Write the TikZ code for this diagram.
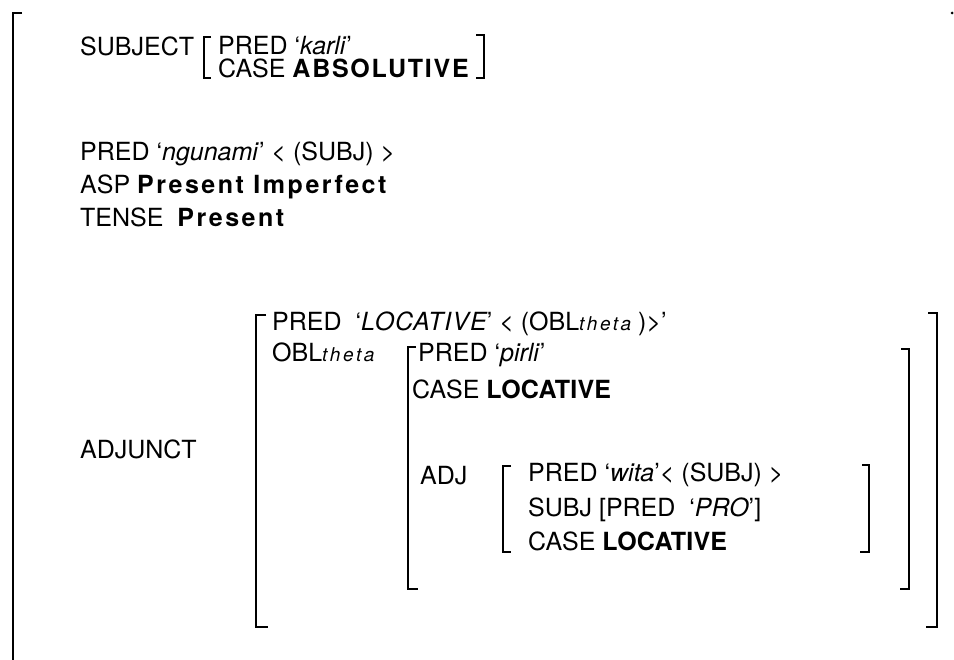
\documentclass[tikz,border=0pt]{standalone}
\usepackage{fontspec}
\setmainfont{TeX Gyre Heros}
\newfontfamily\bspA{TeX Gyre Heros}[LetterSpace=10]
\newfontfamily\bspB{TeX Gyre Heros}[LetterSpace=7]
\newfontfamily\bspC{TeX Gyre Heros}[LetterSpace=1]
\newfontfamily\itsp{TeX Gyre Heros}[LetterSpace=4]
\newfontfamily\thspace{TeX Gyre Heros}[LetterSpace=14]
\newcommand\sub[1]{{\fontsize{19}{19}\selectfont\thspace\itshape #1}}
\newcommand\bA[1]{{\bspA\bfseries #1}}
\newcommand\bB[1]{{\bspB\bfseries #1}}
\newcommand\bC[1]{{\bspC\bfseries #1}}
\newcommand\iS[1]{{\itsp\itshape #1}}
\tikzset{
  txt/.style={anchor=base west, inner sep=0pt, font=\fontsize{25}{30}\selectfont},
  brk/.style={line width=2pt, line join=miter, line cap=butt}
}
\begin{document}
\begin{tikzpicture}[x=1pt,y=-1pt]
\useasboundingbox (0,0) rectangle (954,660);
% outer bracket
\draw[brk] (22,13) -- (13,13) -- (13,660);
\fill (952,13) circle (1.5);
% subject
\node[txt] (subj) at (80,56) {SUBJECT};
\node[txt] (sp) at (218,55) {PRED ‘\textit{karli}’};
\node[txt] (sc) at (218,78) {CASE \bB{ABSOLUTIVE}};
\draw[brk] (211,37) -- (204,37) -- (204,78) -- (211,78);
\draw[brk] (476,35) -- (484,35) -- (484,78) -- (476,78);
% main
\node[txt] (p1) at (80,161) {PRED ‘\textit{ngunami}’ < (SUBJ) >};
\node[txt] (asp) at (80,194) {ASP \bA{Present Imperfect}};
\node[txt] (tense) at (80,227) {TENSE\ \ \bA{Present}};
% adjunct
\node[txt] (adjunct) at (80,459) {ADJUNCT};
\draw[brk] (266,315) -- (256,315) -- (256,627) -- (268,627);
\draw[brk] (928,313) -- (937,313) -- (937,627) -- (926,627);
\node[txt] (lp) at (272,331) {PRED\ \ ‘\iS{LOCATIVE}’ < (OBL\sub{theta} )>’};
\node[txt] (obl) at (272,362) {OBL\sub{theta}};
\draw[brk] (416,347) -- (408,347) -- (408,589) -- (418,589);
\draw[brk] (901,349) -- (909,349) -- (909,589) -- (900,589);
\node[txt] (pp) at (418,362) {PRED\ ‘\textit{pirli}’};
\node[txt] (pc) at (412,399) {CASE \bC{LOCATIVE}};
\node[txt] (adj) at (420,484) {ADJ};
\draw[brk] (511,466) -- (503,466) -- (503,552) -- (511,552);
\draw[brk] (862,465) -- (869,465) -- (869,552) -- (860,552);
\node[txt] (wp) at (528,482) {PRED ‘\textit{wita}’< (SUBJ) >};
\node[txt] (ws) at (528,516) {SUBJ [PRED\ \ ‘\textit{PRO}’]};
\node[txt] (wc) at (528,550) {CASE \bC{LOCATIVE}};
\end{tikzpicture}
\end{document}
